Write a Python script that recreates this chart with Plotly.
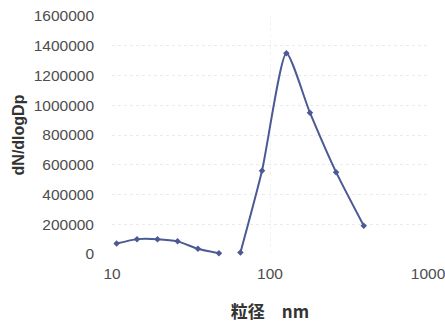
import plotly.graph_objects as go

diameter_nm = [10.7, 14.4, 19.4, 26.0, 35.0, 47.5, None, 65.0, 89.0, 127.0, 179.0, 262.0, 392.0]
dN_dlogDp = [70000, 100000, 100000, 85000, 35000, 5000, None, 10000, 560000, 1350000, 950000, 550000, 190000]

y_ticks = [0, 200000, 400000, 600000, 800000, 1000000, 1200000, 1400000, 1600000]
x_ticks = [10, 100, 1000]

fig = go.Figure()
fig.add_trace(go.Scatter(
    x=diameter_nm, y=dN_dlogDp, mode="lines+markers",
    line=dict(color="#4b5a95", width=2, shape="spline", smoothing=0.6),
    marker=dict(symbol="diamond", size=5, color="#4b5a95"),
    connectgaps=False, showlegend=False, cliponaxis=False,
))

font_family = "Liberation Sans, Arial, sans-serif"
fig.update_layout(
    width=445, height=326,
    margin=dict(l=112, r=17, t=16, b=72),
    paper_bgcolor="white", plot_bgcolor="white",
    font=dict(family=font_family, size=15.5, color="#4d4d4d"),
    xaxis=dict(
        type="log", range=[1, 3], tickvals=x_ticks, ticktext=[str(v) for v in x_ticks],
        showgrid=True, gridcolor="#f2f2f2", griddash="dot", gridwidth=1,
        zeroline=False, showline=False, ticks="", ticklabelstandoff=8,
        ticklabeloverflow="allow", automargin=False,
        title=dict(text="<b>粒径　nm</b>", font=dict(size=17, color="#333333",
                   family="Noto Sans CJK JP, Liberation Sans, sans-serif"), standoff=25),
    ),
    yaxis=dict(
        range=[0, 1600000], tickvals=y_ticks, ticktext=[str(v) for v in y_ticks],
        showgrid=True, gridcolor="#ebebeb", griddash="dot", gridwidth=1,
        zeroline=False, showline=False, ticks="", ticklabelstandoff=17,
        ticklabeloverflow="allow", automargin=False,
        title=dict(text="<b>dN/dlogDp</b>", font=dict(size=16, color="#333333"), standoff=5),
    ),
)

fig.write_html(
    "out.html",
    config={"displayModeBar": False},
    post_script="document.body.style.margin='0';document.body.style.overflow='hidden';",
)
